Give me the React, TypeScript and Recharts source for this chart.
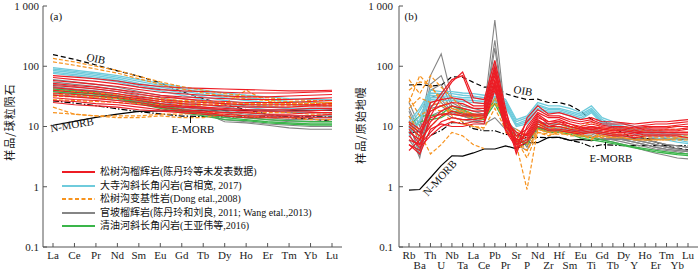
import React from 'react';
import { LineChart, Line, XAxis, YAxis } from 'recharts';

const REE = ['La', 'Ce', 'Pr', 'Nd', 'Sm', 'Eu', 'Gd', 'Tb', 'Dy', 'Ho', 'Er', 'Tm', 'Yb', 'Lu'];
const TRACE = ['Rb', 'Ba', 'Th', 'U', 'Nb', 'Ta', 'La', 'Ce', 'Pb', 'Pr', 'Sr', 'P', 'Nd', 'Zr', 'Hf', 'Sm', 'Eu', 'Ti', 'Gd', 'Tb', 'Dy', 'Y', 'Ho', 'Er', 'Tm', 'Yb', 'Lu'];
const Y_TICKS = [0.1, 1, 10, 100, 1000];
const Y_TICK_LABELS = ['0.1', '1', '10', '100', '1 000'];

const LEGEND_LABELS = [
  '松树沟榴辉岩(陈丹玲等未发表数据)',
  '大寺沟斜长角闪岩(宫相宽,  2017)',
  '松树沟变基性岩(Dong etal.,2008)',
  '官坡榴辉岩(陈丹玲和刘良, 2011; Wang etal.,2013)',
  '清油河斜长角闪岩(王亚伟等,2016)',
];

// ---------- Panel (a): chondrite-normalised REE ----------
const oibA = [156, 130, 105, 84, 68, 53, 38, 29, 23, 19, 16, 14, 13.4, 12.2];
const emorbA = [26.6, 24.5, 22.1, 19.7, 17.6, 16.2, 14.9, 14.7, 14.4, 14.5, 14.4, 14.4, 14.7, 14.4];
const nmorbA = [10.5, 12.2, 14.2, 16, 17.8, 18.1, 18.5, 18.6, 18.5, 18.5, 18.6, 18.5, 18.9, 18.5];

const redA = [
  [70, 66, 62, 57, 50, 46, 44, 43, 42, 41, 40, 39, 39, 40],
  [65, 60, 56, 51, 45, 41, 39, 38, 37, 36, 36, 36, 37, 38],
  [58, 54, 50, 46, 41, 37, 35, 33, 32, 31, 31, 32, 33, 34],
  [52, 48, 45, 41, 37, 33, 31, 30, 29, 28, 28, 28, 29, 30],
  [48, 45, 42, 38, 34, 31, 29, 27, 26, 25, 25, 25, 26, 27],
  [44, 41, 38, 35, 31, 28, 26, 25, 24, 23, 23, 23, 23, 24],
  [40, 37, 35, 32, 29, 26, 24, 23, 22, 21, 21, 21, 22, 22],
  [36, 34, 32, 30, 27, 24, 22, 21, 20, 19, 19, 19, 20, 20],
  [33, 31, 29, 27, 25, 22, 21, 20, 19, 18, 18, 18, 18, 19],
  [30, 28, 27, 25, 23, 21, 19, 18, 17, 17, 16, 16, 17, 17],
  [27, 26, 24, 23, 21, 19, 18, 17, 16, 15, 15, 15, 15, 16],
  [25, 23, 22, 21, 19, 18, 17, 16, 15, 14, 14, 14, 14, 14],
];
const cyanA = [
  [95, 86, 78, 70, 60, 52, 45, 40, 36, 33, 31, 29, 28, 28],
  [90, 82, 74, 66, 56, 48, 42, 37, 33, 30, 28, 26, 25, 25],
  [85, 78, 70, 62, 52, 45, 39, 34, 30, 27, 25, 23, 22, 22],
  [80, 73, 66, 58, 48, 42, 36, 31, 27, 24, 22, 20, 19, 19],
  [76, 69, 62, 55, 45, 39, 33, 28, 24, 21, 19, 18, 17, 17],
];
const orangeA = [
  [135, 118, 100, 85, 68, 55, 46, 40, 35, 32, 30, 28, 27, 27],
  [118, 104, 90, 77, 62, 50, 42, 36, 32, 29, 27, 26, 25, 25],
  [40, 38, 36, 34, 31, 29, 27, 26, 25, 24, 24, 23, 23, 23],
  [32, 31, 30, 29, 28, 27, 26, 26, 25, 24, 24, 24, 24, 25],
  [28, 27, 26, 25, 24, 23, 23, 22, 24, 40, 26, 24, 24, 24],
  [21, 16, 15, 14, 14, 15, 14, 14, 16, 15, 14, 14, 13, 13],
  [17, 16, 15, 15, 15, 16, 16, 17, 17, 17, 17, 17, 16, 16],
  [35, 33, 31, 30, 28, 26, 25, 24, 23, 23, 22, 22, 22, 22],
];
const grayA = [
  [60, 55, 50, 45, 38, 33, 29, 26, 24, 22, 21, 20, 20, 20],
  [55, 50, 46, 41, 35, 30, 26, 23, 21, 19, 18, 17, 17, 17],
  [50, 46, 42, 38, 32, 28, 24, 21, 19, 17, 16, 15, 15, 15],
  [46, 42, 39, 35, 30, 26, 22, 20, 18, 16, 15, 14, 14, 14],
  [42, 39, 36, 32, 28, 24, 21, 19, 17, 15, 14, 13, 13, 13],
  [38, 35, 32, 29, 26, 22, 19, 17, 15, 14, 13, 12, 12, 12],
  [34, 32, 30, 27, 24, 21, 18, 16, 13, 12, 11, 10.5, 10, 10],
  [45, 41, 37, 33, 28, 24, 20, 17, 12, 11.5, 10.5, 9.5, 9, 9],
];
const greenA = [
  [42, 39, 36, 32, 27, 23, 19, 17, 15, 14, 13, 12.5, 12, 12],
  [40, 37, 34, 30, 25, 21, 18, 16, 14, 13, 12, 11.5, 11, 11],
  [38, 35, 32, 29, 24, 20, 17, 15, 13, 12.5, 11.5, 11, 10.5, 10.5],
];

// ---------- Panel (b): primitive-mantle-normalised trace elements ----------
const oibB = [48.8, 50, 47, 48.6, 67, 66, 54, 45, 45, 35, 31, 28, 28.4, 25, 25, 22.5, 17.9, 13.2, 12.8, 9.7, 7.6, 6.4, 6.5, 5.5, 4.7, 4.4, 4.1];
const emorbB = [7.9, 8.2, 7.1, 8.6, 11.6, 11.5, 9.2, 8.5, 8.5, 7.4, 7.3, 6.5, 6.6, 6.5, 6.6, 5.9, 5.4, 4.6, 5.0, 4.9, 4.8, 4.8, 4.8, 4.8, 4.8, 4.8, 4.8];
const nmorbB = [0.88, 0.9, 1.41, 2.24, 3.27, 3.22, 3.64, 4.23, 4.23, 4.78, 4.27, 5.37, 5.39, 6.6, 6.6, 5.9, 6.1, 5.8, 6.2, 6.2, 6.2, 6.2, 6.2, 6.2, 6.2, 6.2, 6.1];

const redB = [
  [5, 4, 15, 30, 55, 80, 30, 28, 125, 20, 4, 14, 22, 16, 17, 15, 13, 14, 12, 12, 11.5, 11, 11.5, 12, 12, 12.5, 13],
  [8, 6, 20, 35, 60, 70, 25, 24, 100, 17, 6, 12, 19, 15, 15, 13, 12, 13, 11, 11, 11, 10, 10.5, 11, 11, 11.5, 12],
  [10, 7, 25, 28, 30, 28, 22, 22, 90, 15, 3.5, 10, 17, 14, 14, 12, 11, 12, 10.5, 10, 10, 9.5, 10, 10, 10, 10.5, 11],
  [12, 9, 18, 22, 25, 24, 20, 20, 80, 14, 7, 9, 16, 12, 13, 11, 10, 11, 10, 9.5, 9.5, 9, 9.5, 9.5, 9.5, 10, 10],
  [6, 5, 12, 18, 22, 20, 18, 18, 70, 13, 5, 8, 15, 11, 12, 11, 9.5, 10, 9.5, 9, 9, 8.5, 9, 9, 9, 9, 9.5],
  [4, 6, 10, 15, 18, 16, 16, 16, 60, 12, 8, 7, 13, 10, 11, 10, 9, 9.5, 9, 8.5, 8.5, 8, 8.5, 8.5, 8.5, 8.5, 9],
  [9, 5, 8, 12, 14, 13, 13, 14, 50, 10, 6, 6.5, 12, 10, 10, 9, 8.5, 9, 8.5, 8, 8, 7.5, 8, 8, 8, 8, 8],
  [7, 4.5, 7, 10, 12, 11, 12, 12, 45, 9, 5, 6, 11, 9, 9, 8.5, 8, 8.5, 8, 7.5, 7.5, 7, 7.5, 7.5, 7.5, 7.5, 7.5],
  [5, 3.5, 9, 11, 10, 10, 11, 11, 40, 8.5, 4.5, 5.5, 10, 8.5, 8.5, 8, 7.5, 8, 7.5, 7, 7, 6.5, 7, 7, 7, 7, 6.5],
  [11, 8, 14, 16, 16, 15, 15, 15, 55, 11, 5.5, 7.5, 14, 12, 12, 10, 9, 10, 9, 8.5, 8.5, 8, 8, 8, 8, 8, 8],
];
const cyanB = [
  [12, 20, 40, 38, 38, 36, 35, 33, 35, 28, 13, 15, 25, 22, 22, 20, 17, 22, 14, 12, 11, 10, 9.5, 8.5, 8, 7.5, 7],
  [10, 18, 36, 35, 35, 33, 32, 30, 32, 26, 12, 14, 23, 20, 20, 18, 16, 20, 13, 11, 10, 9, 8.5, 8, 7.5, 7, 6.5],
  [9, 15, 33, 32, 32, 30, 30, 28, 30, 24, 11, 13, 22, 19, 19, 17, 15, 19, 12, 10.5, 9.5, 8.5, 8, 7.5, 7, 6.5, 6],
  [8, 13, 30, 30, 29, 28, 27, 26, 28, 22, 10.5, 12, 20, 18, 18, 16, 14, 18, 11.5, 10, 9, 8, 7.5, 7, 6.5, 6, 5.5],
  [7, 12, 28, 27, 27, 26, 25, 24, 26, 21, 10, 11, 19, 17, 17, 15, 13, 17, 11, 9.5, 8.5, 7.5, 7, 6.5, 6, 5.5, 5.2],
];
const orangeB = [
  [60, 35, 70, 45, 30, 20, 15, 14, null, 10, 6, 4, 9, 8, 8, 8, 7.5, 8, 7, 7, 7, 6.5, 6.5, 6.5, 6.5, 6.5, 6.5],
  [40, 55, 50, 25, 15, 12, 10, 9, null, 8, 6, 3, 8, 7, 8, 7, 7, 7, 6.5, 6.5, 6.5, 6, 6, 6, 6, 6, 6],
  [25, 70, 45, 30, 20, 18, 16, 15, 25, 12, 5, 0.9, 9, 8, 9, 8, 8, 6, 8, 7.5, 7.5, 7, 7, 7, 7, 7, 7],
  [15, 8, 3.5, 5, 8, 7, 5, 4.3, null, 8, 7, 5, 10, 9, 10, 9, 9, 9, 8.5, 8, 9, 8, 8, 8, 8, 8, 8],
  [20, 30, 25, 22, 18, 15, 14, 13, 30, 11, 8, 6, 12, 10, 11, 10, 10, 12, 9.5, 9, 10, 9, 9.5, 10, 10, 10, 10],
  [12, 6, 10, 15, 20, 17, 15, 14, null, 10, 5, 4, 8, 7.5, 7.5, 7.5, 7, 6.5, 7, 6.5, 6.5, 6, 6, 6, 6, 6.5, 6.5],
  [30, 15, 20, 18, 12, 11, 10, 9.5, 20, 9, 9, 7, 11, 10, 10, 9.5, 9.5, 10, 9, 9, 9, 8.5, 8.5, 8.5, 9, 9, 9],
];
const grayB = [
  [25, 10, 70, 160, 30, 22, 20, 18, 585, 14, 8, 5, 12, 11, 11, 10, 9, 9, 8, 7.5, 7, 6.5, 6, 5.5, 5, 4.8, 4.5],
  [20, 8, 50, 70, 25, 20, 18, 16, 270, 13, 7, 6, 11, 10, 10, 9, 8, 8.5, 7.5, 7, 6.5, 6, 5.5, 5, 4.5, 4.3, 4],
  [15, 5, 40, 50, 22, 18, 16, 15, 200, 12, 8, 4.5, 12, 10, 11, 9.5, 8.5, 9, 7.5, 7, 6.5, 6, 5.5, 5, 4.5, 4.2, 4],
  [12, 3.3, 30, 35, 20, 17, 15, 14, 120, 12, 6, 5, 11, 9.5, 10, 9, 8, 8, 7, 6.5, 6, 5.5, 5, 4.5, 4.2, 4, 3.8],
  [10, 4, 25, 28, 18, 16, 14, 13, 80, 11, 9, 7, 12, 11, 11, 10, 9, 10, 8, 7.5, 7, 6.5, 6, 5.5, 5, 4.8, 4.5],
  [8, 3, 20, 22, 16, 15, 13, 12, 50, 10, 7, 6, 10, 9, 9.5, 8.5, 7.5, 7.5, 6.5, 6, 5.5, 5, 4.6, 4.2, 4, 3.8, 3.5],
  [18, 6, 22, 25, 17, 15, 13, 12, 30, 10, 5, 4, 9, 8, 8.5, 8, 7, 7, 6, 5.5, 5, 4.5, 4, 3.6, 3.3, 3, 2.9],
  [6, 3.5, 15, 18, 14, 13, 12, 11, 14, 9, 6, 5, 9.5, 9, 9, 8.5, 8, 8, 7, 6.5, 6, 5.5, 5, 4.5, 4.2, 4, 3.8],
];
const greenB = [
  [10, 15, 15, 16, 22, 19, 16, 15, 28, 12, 6, 5, 10, 8.5, 8.5, 8, 7, 6.5, 6, 5.5, 5, 4.6, 4.3, 4, 3.8, 3.6, 3.5],
  [8, 12, 13, 14, 18, 17, 14, 13, 24, 11, 5.5, 5.5, 9.5, 8, 8, 7.5, 6.5, 6, 5.6, 5.2, 4.8, 4.4, 4.1, 3.8, 3.6, 3.4, 3.3],
];

const RED = '#ed1c24';
const CYAN = '#6fcbdc';
const ORANGE = '#f7931e';
const GRAY = '#858585';
const GREEN = '#3ab54a';
const AXIS = '#555';
const SERIF = "'Liberation Serif', 'Times New Roman', 'Noto Sans CJK SC', serif";

type Group = { key: string; color: string; dash?: string; width: number; lines: (number | null)[][] };

const groupsA: Group[] = [
  { key: 'gray', color: GRAY, width: 1.1, lines: grayA },
  { key: 'green', color: GREEN, width: 1.3, lines: greenA },
  { key: 'cyan', color: CYAN, width: 1.3, lines: cyanA },
  { key: 'orange', color: ORANGE, dash: '4 2', width: 1.2, lines: orangeA },
  { key: 'red', color: RED, width: 1.1, lines: redA },
];
const groupsB: Group[] = [
  { key: 'gray', color: GRAY, width: 1.1, lines: grayB },
  { key: 'green', color: GREEN, width: 1.3, lines: greenB },
  { key: 'cyan', color: CYAN, width: 1.3, lines: cyanB },
  { key: 'orange', color: ORANGE, dash: '4 2', width: 1.2, lines: orangeB },
  { key: 'red', color: RED, width: 1.2, lines: redB },
];

function buildRows(cats: string[], groups: Group[], oib: number[], emorb: number[], nmorb: number[]) {
  return cats.map((el, i) => {
    const row: Record<string, any> = { el, oib: oib[i], emorb: emorb[i], nmorb: nmorb[i] };
    groups.forEach((g) => g.lines.forEach((arr, j) => { row[`${g.key}${j}`] = arr[i]; }));
    return row;
  });
}

const rowsA = buildRows(REE, groupsA, oibA, emorbA, nmorbA);
const rowsB = buildRows(TRACE, groupsB, oibB, emorbB, nmorbB);

const yFmt = (v: number) => {
  const i = Y_TICKS.indexOf(v);
  return i >= 0 ? Y_TICK_LABELS[i] : String(v);
};

const tickStyle = { fontSize: 11, fill: '#222', fontFamily: SERIF };

const TwoRowTick = (props: any) => {
  const { x, y, payload } = props;
  const idx = TRACE.indexOf(payload.value);
  return (
    <text x={x} y={y + (idx % 2 ? 10 : 0)} dy="0.71em" textAnchor="middle" fontSize={11} fill="#222" fontFamily={SERIF}>
      {payload.value}
    </text>
  );
};

function renderLines(groups: Group[]) {
  const out: any[] = [];
  out.push(<Line key="nmorb" dataKey="nmorb" stroke="#000" strokeWidth={1.2} dot={false} isAnimationActive={false} />);
  out.push(<Line key="emorb" dataKey="emorb" stroke="#000" strokeWidth={1.2} strokeDasharray="6 2 1.5 2" dot={false} isAnimationActive={false} />);
  out.push(<Line key="oib" dataKey="oib" stroke="#000" strokeWidth={1.2} strokeDasharray="5 3" dot={false} isAnimationActive={false} />);
  groups.forEach((g) => g.lines.forEach((_, j) => {
    out.push(
      <Line key={`${g.key}${j}`} dataKey={`${g.key}${j}`} stroke={g.color} strokeWidth={g.width}
        strokeDasharray={g.dash} dot={false} isAnimationActive={false} connectNulls={false} />
    );
  }));
  return out;
}

function Panel({ rows, groups, twoRow, marginLeft, marginRight, yTickMargin }: any) {
  return (
    <LineChart width={350} height={272} data={rows} margin={{ top: 6, right: marginRight, bottom: 0, left: marginLeft }}>
      <XAxis dataKey="el" interval={0} padding={{ left: 10, right: 10 }} height={25}
        stroke={AXIS} tickSize={-4} tickMargin={8}
        tick={twoRow ? <TwoRowTick /> : tickStyle} />
      <XAxis xAxisId="top" orientation="top" height={0} tick={false} tickLine={false} stroke={AXIS} />
      <YAxis scale="log" type="number" domain={[0.1, 1000]} ticks={Y_TICKS} allowDataOverflow
        width={40} stroke={AXIS} tickSize={-4} tickMargin={yTickMargin} tickFormatter={yFmt} tick={tickStyle} interval={0} />
      <YAxis yAxisId="right" orientation="right" width={0} tick={false} tickLine={false} stroke={AXIS} type="number" domain={[0, 1]} />
      {renderLines(groups)}
    </LineChart>
  );
}

const abs = (left: number, top: number, rot = 0, extra: any = {}) => ({
  position: 'absolute' as const, left, top, transform: `translate(-50%, -50%) rotate(${rot}deg)`,
  fontFamily: SERIF, fontSize: 11, color: '#111', whiteSpace: 'nowrap' as const, lineHeight: 1, ...extra,
});

const LEGEND_STYLES = [
  { color: RED, dash: false },
  { color: CYAN, dash: false },
  { color: ORANGE, dash: true },
  { color: GRAY, dash: false },
  { color: GREEN, dash: false },
];

export default function App() {
  return (
    <div style={{ position: 'absolute', left: 0, top: 0, width: 700, height: 272, background: '#fff', overflow: 'hidden' }}>
      <div style={{ position: 'absolute', left: 0, top: 0 }}>
        <Panel rows={rowsA} groups={groupsA} twoRow={false} marginLeft={3} marginRight={8} yTickMargin={8} />
      </div>
      <div style={{ position: 'absolute', left: 350, top: 0 }}>
        <Panel rows={rowsB} groups={groupsB} twoRow={true} marginLeft={9} marginRight={2} yTickMargin={10} />
      </div>

      {/* y-axis titles */}
      <div style={abs(9, 122, -90, { fontFamily: "'Noto Sans CJK SC', sans-serif", fontSize: 11, letterSpacing: 1 })}>样品/球粒陨石</div>
      <div style={abs(360, 125, -90, { fontFamily: "'Noto Sans CJK SC', sans-serif", fontSize: 11, letterSpacing: 1 })}>样品/原始地幔</div>

      {/* panel a annotations */}
      <div style={abs(56, 16)}>(a)</div>
      <div style={abs(96, 59, 12)}>OIB</div>
      <div style={abs(72, 125, -10)}>N-MORB</div>
      <div style={abs(193, 129)}>E-MORB</div>
      <div style={{ position: 'absolute', left: 190, top: 116, width: 1, height: 7, background: '#111' }} />

      {/* panel b annotations */}
      <div style={abs(411, 16)}>(b)</div>
      <div style={abs(523, 91, 10)}>OIB</div>
      <div style={abs(440, 178, -48)}>N-MORB</div>
      <div style={abs(611, 158)}>E-MORB</div>
      <div style={{ position: 'absolute', left: 605, top: 142, width: 1, height: 7, background: '#111' }} />

      {/* legend */}
      {LEGEND_LABELS.map((label, i) => {
        const y = 172 + i * 13.6;
        const st = LEGEND_STYLES[i];
        return (
          <React.Fragment key={label}>
            <svg style={{ position: 'absolute', left: 62, top: y - 3 }} width={34} height={6}>
              <line x1={0} y1={3} x2={33} y2={3} stroke={st.color} strokeWidth={2} strokeDasharray={st.dash ? '4 2.5' : undefined} />
            </svg>
            <div style={{ position: 'absolute', left: 100, top: y, transform: 'translateY(-50%)', fontFamily: SERIF, fontSize: 10, color: '#111', whiteSpace: 'nowrap', lineHeight: 1 }}>
              {label}
            </div>
          </React.Fragment>
        );
      })}
    </div>
  );
}
